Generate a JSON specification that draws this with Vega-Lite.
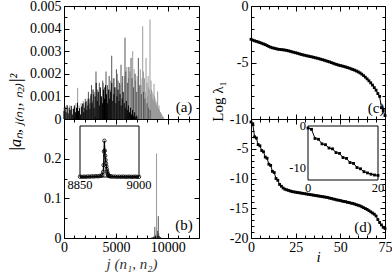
{
"$schema":"https://vega.github.io/schema/vega-lite/v6.json",
"background":"#ffffff",
"padding":{"left":6,"top":-2,"right":0,"bottom":0},
"bounds":"flush",
"columns":2,
"spacing":{"row":0,"column":52},
"config":{
 "view":{"stroke":"#000000","strokeWidth":1},
 "axis":{"grid":false,"domain":false,"tickColor":"#000000","tickWidth":1,"labelFont":"Liberation Serif","labelFontSize":14,"labelColor":"#000000","labelFlush":false,"labelOverlap":false,"titleFont":"Liberation Serif","titleColor":"#000000","titleFontWeight":"normal","titleFontSize":15}
},
"datasets":{
 "z":[{"j":0,"v":0}],
 "lab":[{"p":"a","x":11555,"y":0.00054,"t":"(a)"},{"p":"b","x":11555,"y":0.033,"t":"(b)"},{"p":"c","x":70,"y":-9.07,"t":"(c)"},{"p":"d","x":62.7,"y":-18.15,"t":"(d)"}],
 "blab":[{"j":8850,"v":-0.047,"t":"8850"},{"j":9000,"v":-0.047,"t":"9000"}],
 "dlabx":[{"i":0,"v":-14.93,"t":"0"},{"i":20,"v":-14.93,"t":"20"}],
 "dlaby":[{"i":-0.6,"v":0,"t":"0"},{"i":-0.6,"v":-10,"t":"-10"}],
 "a":[
{"j":0,"v":0.0005,"s":"s3"},{"j":150,"v":0.0004,"s":"s3"},{"j":350,"v":0.00055,"s":"s3"},{"j":550,"v":0.0006,"s":"s3"},{"j":750,"v":0.00045,"s":"s3"},{"j":950,"v":0.0005,"s":"s3"},{"j":1150,"v":0.0007,"s":"s3"},{"j":1315,"v":0.00138,"s":"s3"},{"j":1450,"v":0.0006,"s":"s3"},{"j":1650,"v":0.0007,"s":"s3"},{"j":1850,"v":0.0008,"s":"s3"},{"j":2050,"v":0.0006,"s":"s3"},{"j":2250,"v":0.0009,"s":"s3"},{"j":2550,"v":0.001,"s":"s3"},{"j":2750,"v":0.0008,"s":"s3"},{"j":2950,"v":0.0012,"s":"s3"},{"j":3200,"v":0.0011,"s":"s3"},{"j":3500,"v":0.0013,"s":"s3"},{"j":3800,"v":0.0016,"s":"s3"},{"j":4150,"v":0.0014,"s":"s3"},{"j":4500,"v":0.0017,"s":"s3"},{"j":4850,"v":0.0018,"s":"s3"},{"j":5150,"v":0.002,"s":"s3"},{"j":5400,"v":0.0015,"s":"s3"},{"j":5600,"v":0.0016,"s":"s3"},{"j":5850,"v":0.0019,"s":"s3"},{"j":6050,"v":0.0023,"s":"s3"},{"j":6200,"v":0.0018,"s":"s3"},{"j":6350,"v":0.0021,"s":"s3"},{"j":6615,"v":0.003,"s":"s3"},{"j":6750,"v":0.0022,"s":"s3"},{"j":6900,"v":0.0017,"s":"s3"},{"j":7050,"v":0.0019,"s":"s3"},{"j":7200,"v":0.0014,"s":"s3"},{"j":7350,"v":0.0022,"s":"s3"},{"j":7420,"v":0.0015,"s":"s3"},{"j":7520,"v":0.0018,"s":"s3"},{"j":7578,"v":0.0041,"s":"s3"},{"j":7650,"v":0.0021,"s":"s3"},{"j":7750,"v":0.0018,"s":"s3"},{"j":7820,"v":0.0012,"s":"s3"},{"j":7900,"v":0.0027,"s":"s3"},{"j":8000,"v":0.0016,"s":"s3"},{"j":8050,"v":0.001,"s":"s3"},{"j":8100,"v":0.0019,"s":"s3"},{"j":8150,"v":0.0014,"s":"s3"},{"j":8200,"v":0.0013,"s":"s3"},{"j":8281,"v":0.0044,"s":"s3"},{"j":8330,"v":0.0011,"s":"s3"},{"j":8380,"v":0.0017,"s":"s3"},{"j":8430,"v":0.0013,"s":"s3"},{"j":8480,"v":0.0012,"s":"s3"},{"j":8530,"v":0.0009,"s":"s3"},{"j":8580,"v":0.0011,"s":"s3"},{"j":8630,"v":0.0008,"s":"s3"},{"j":8670,"v":0.00156,"s":"s3"},{"j":8720,"v":0.001,"s":"s3"},{"j":8760,"v":0.0009,"s":"s3"},{"j":8800,"v":0.0007,"s":"s3"},{"j":8850,"v":0.0008,"s":"s3"},{"j":8900,"v":0.0006,"s":"s3"},{"j":8940,"v":0.0007,"s":"s3"},{"j":8980,"v":0.0005,"s":"s3"},{"j":9020,"v":0.00122,"s":"s3"},{"j":9060,"v":0.0004,"s":"s3"},{"j":9100,"v":0.0005,"s":"s3"},{"j":9150,"v":0.0006,"s":"s3"},{"j":9200,"v":0.0004,"s":"s3"},{"j":9250,"v":0.0003,"s":"s3"},{"j":9300,"v":0.0003,"s":"s3"},{"j":9350,"v":0.00025,"s":"s3"},{"j":9400,"v":0.0002,"s":"s3"},{"j":9450,"v":0.00015,"s":"s3"},{"j":9500,"v":0.0001,"s":"s3"},{"j":9550,"v":0.0001,"s":"s3"},{"j":9600,"v":0.00005,"s":"s3"},
{"j":1900,"v":0.0007,"s":"s2"},{"j":2050,"v":0.0009,"s":"s2"},{"j":2200,"v":0.0008,"s":"s2"},{"j":2350,"v":0.0012,"s":"s2"},{"j":2500,"v":0.0007,"s":"s2"},{"j":2650,"v":0.0015,"s":"s2"},{"j":2850,"v":0.0011,"s":"s2"},{"j":3080,"v":0.0021,"s":"s2"},{"j":3250,"v":0.0013,"s":"s2"},{"j":3400,"v":0.0016,"s":"s2"},{"j":3550,"v":0.001,"s":"s2"},{"j":3725,"v":0.0017,"s":"s2"},{"j":3900,"v":0.0014,"s":"s2"},{"j":4045,"v":0.0021,"s":"s2"},{"j":4200,"v":0.0015,"s":"s2"},{"j":4350,"v":0.0019,"s":"s2"},{"j":4450,"v":0.0013,"s":"s2"},{"j":4595,"v":0.0028,"s":"s2"},{"j":4750,"v":0.0018,"s":"s2"},{"j":4900,"v":0.0014,"s":"s2"},{"j":5050,"v":0.0022,"s":"s2"},{"j":5200,"v":0.0017,"s":"s2"},{"j":5350,"v":0.0016,"s":"s2"},{"j":5490,"v":0.0024,"s":"s2"},{"j":5650,"v":0.0019,"s":"s2"},{"j":5874,"v":0.0036,"s":"s2"},{"j":5950,"v":0.0021,"s":"s2"},{"j":6100,"v":0.0016,"s":"s2"},{"j":6250,"v":0.0023,"s":"s2"},{"j":6455,"v":0.0027,"s":"s2"},{"j":6550,"v":0.0018,"s":"s2"},{"j":6700,"v":0.0014,"s":"s2"},{"j":6850,"v":0.002,"s":"s2"},{"j":7000,"v":0.0012,"s":"s2"},{"j":7160,"v":0.0027,"s":"s2"},{"j":7300,"v":0.0015,"s":"s2"},{"j":7450,"v":0.0011,"s":"s2"},{"j":7650,"v":0.0012,"s":"s2"},{"j":7800,"v":0.0009,"s":"s2"},{"j":8000,"v":0.0007,"s":"s2"},{"j":8150,"v":0.0005,"s":"s2"},{"j":8300,"v":0.0004,"s":"s2"},
{"j":0,"v":0.00035,"s":"s1"},{"j":100,"v":0.00055,"s":"s1"},{"j":200,"v":0.0003,"s":"s1"},{"j":300,"v":0.00062,"s":"s1"},{"j":400,"v":0.00025,"s":"s1"},{"j":500,"v":0.0005,"s":"s1"},{"j":600,"v":0.0004,"s":"s1"},{"j":700,"v":0.00058,"s":"s1"},{"j":800,"v":0.0002,"s":"s1"},{"j":900,"v":0.00045,"s":"s1"},{"j":1000,"v":0.0006,"s":"s1"},{"j":1100,"v":0.0003,"s":"s1"},{"j":1200,"v":0.0005,"s":"s1"},{"j":1300,"v":0.00072,"s":"s1"},{"j":1400,"v":0.00035,"s":"s1"},{"j":1500,"v":0.00048,"s":"s1"},{"j":1600,"v":0.0002,"s":"s1"},{"j":1700,"v":0.00055,"s":"s1"},{"j":1800,"v":0.00068,"s":"s1"},{"j":1900,"v":0.0003,"s":"s1"},{"j":2000,"v":0.0005,"s":"s1"},{"j":2100,"v":0.00075,"s":"s1"},{"j":2200,"v":0.0004,"s":"s1"},{"j":2300,"v":0.0006,"s":"s1"},{"j":2400,"v":0.0009,"s":"s1"},{"j":2500,"v":0.00045,"s":"s1"},{"j":2600,"v":0.0011,"s":"s1"},{"j":2700,"v":0.0007,"s":"s1"},{"j":2800,"v":0.0013,"s":"s1"},{"j":2900,"v":0.0005,"s":"s1"},{"j":3000,"v":0.001,"s":"s1"},{"j":3100,"v":0.0016,"s":"s1"},{"j":3200,"v":0.0008,"s":"s1"},{"j":3300,"v":0.0012,"s":"s1"},{"j":3400,"v":0.0006,"s":"s1"},{"j":3500,"v":0.0014,"s":"s1"},{"j":3600,"v":0.001,"s":"s1"},{"j":3700,"v":0.0007,"s":"s1"},{"j":3800,"v":0.0013,"s":"s1"},{"j":3900,"v":0.0009,"s":"s1"},{"j":4000,"v":0.0015,"s":"s1"},{"j":4100,"v":0.0011,"s":"s1"},{"j":4200,"v":0.0007,"s":"s1"},{"j":4300,"v":0.0013,"s":"s1"},{"j":4400,"v":0.0009,"s":"s1"},{"j":4500,"v":0.0012,"s":"s1"},{"j":4600,"v":0.0016,"s":"s1"},{"j":4700,"v":0.0008,"s":"s1"},{"j":4800,"v":0.0011,"s":"s1"},{"j":4900,"v":0.0014,"s":"s1"},{"j":5000,"v":0.0007,"s":"s1"},{"j":5100,"v":0.001,"s":"s1"},{"j":5200,"v":0.0013,"s":"s1"},{"j":5300,"v":0.0008,"s":"s1"},{"j":5400,"v":0.0011,"s":"s1"},{"j":5500,"v":0.0006,"s":"s1"},{"j":5600,"v":0.0009,"s":"s1"},{"j":5700,"v":0.0012,"s":"s1"},{"j":5800,"v":0.0007,"s":"s1"},{"j":5900,"v":0.0005,"s":"s1"},{"j":6000,"v":0.0008,"s":"s1"},{"j":6100,"v":0.0004,"s":"s1"},{"j":6200,"v":0.0006,"s":"s1"},{"j":6300,"v":0.0003,"s":"s1"},{"j":6400,"v":0.0005,"s":"s1"},{"j":6500,"v":0.0002,"s":"s1"},{"j":6600,"v":0.0004,"s":"s1"},{"j":6700,"v":0.00015,"s":"s1"},{"j":6800,"v":0.0003,"s":"s1"},{"j":6900,"v":0.0001,"s":"s1"},{"j":7000,"v":0.00015,"s":"s1"}
 ],
 "b":[
{"j":8912,"v":0.213,"s":"s3"},{"j":8400,"v":0.002,"s":"s3"},{"j":8700,"v":0.003,"s":"s3"},{"j":8950,"v":0.006,"s":"s3"},{"j":9150,"v":0.003,"s":"s3"},
{"j":8500,"v":0.002,"s":"s2"},{"j":8600,"v":0.003,"s":"s2"},{"j":8750,"v":0.028,"s":"s2"},{"j":8800,"v":0.008,"s":"s2"},{"j":8850,"v":0.005,"s":"s2"},{"j":9000,"v":0.018,"s":"s2"},{"j":9080,"v":0.055,"s":"s2"},{"j":9120,"v":0.012,"s":"s2"},{"j":9200,"v":0.005,"s":"s2"},{"j":9300,"v":0.002,"s":"s2"},
{"j":2000,"v":0.001,"s":"s1"},{"j":5000,"v":0.001,"s":"s1"},{"j":8650,"v":0.003,"s":"s1"},{"j":8820,"v":0.004,"s":"s1"},{"j":9050,"v":0.006,"s":"s1"},{"j":9250,"v":0.002,"s":"s1"}
 ],
 "bi":[
{"j":8850,"v":0.002},{"j":8855,"v":0.001},{"j":8860,"v":0.002},{"j":8865,"v":0.001},{"j":8870,"v":0.003},{"j":8875,"v":0.002},{"j":8880,"v":0.004},{"j":8885,"v":0.003},{"j":8890,"v":0.005},{"j":8895,"v":0.004},{"j":8900,"v":0.006},{"j":8904,"v":0.008},{"j":8907,"v":0.012},{"j":8909,"v":0.03},{"j":8910,"v":0.07},{"j":8911,"v":0.15},{"j":8912,"v":0.213},{"j":8913,"v":0.155},{"j":8914,"v":0.125},{"j":8915,"v":0.1},{"j":8916,"v":0.08},{"j":8917,"v":0.063},{"j":8918,"v":0.047},{"j":8919,"v":0.033},{"j":8920,"v":0.022},{"j":8921,"v":0.014},{"j":8922,"v":0.009},{"j":8924,"v":0.006},{"j":8927,"v":0.004},{"j":8930,"v":0.003},{"j":8935,"v":0.002},{"j":8940,"v":0.002},{"j":8945,"v":0.001},{"j":8950,"v":0.002},{"j":8955,"v":0.001},{"j":8960,"v":0.002},{"j":8965,"v":0.001},{"j":8970,"v":0.001},{"j":8975,"v":0.002},{"j":8980,"v":0.001},{"j":8985,"v":0.001},{"j":8990,"v":0.002},{"j":8995,"v":0.001},{"j":9000,"v":0.001}
 ],
 "bframe":[{"j":8850,"j2":9000,"v":0,"v2":0.3}],
 "dframe":[{"i":0,"i2":20,"v":-13,"v2":0}],
 "c":[
{"i":0,"v":-2.95},{"i":1,"v":-3.02},{"i":2,"v":-3.08},{"i":3,"v":-3.13},{"i":4,"v":-3.18},{"i":5,"v":-3.24},{"i":6,"v":-3.3},{"i":7,"v":-3.36},{"i":8,"v":-3.42},{"i":9,"v":-3.5},{"i":10,"v":-3.58},{"i":11,"v":-3.65},{"i":12,"v":-3.7},{"i":13,"v":-3.74},{"i":14,"v":-3.78},{"i":15,"v":-3.82},{"i":16,"v":-3.84},{"i":17,"v":-3.86},{"i":18,"v":-3.88},{"i":19,"v":-3.9},{"i":20,"v":-3.93},{"i":21,"v":-3.97},{"i":22,"v":-4.01},{"i":23,"v":-4.06},{"i":24,"v":-4.1},{"i":25,"v":-4.14},{"i":26,"v":-4.18},{"i":27,"v":-4.23},{"i":28,"v":-4.28},{"i":29,"v":-4.32},{"i":30,"v":-4.36},{"i":31,"v":-4.4},{"i":32,"v":-4.43},{"i":33,"v":-4.47},{"i":34,"v":-4.5},{"i":35,"v":-4.54},{"i":36,"v":-4.58},{"i":37,"v":-4.62},{"i":38,"v":-4.66},{"i":39,"v":-4.71},{"i":40,"v":-4.75},{"i":41,"v":-4.8},{"i":42,"v":-4.85},{"i":43,"v":-4.9},{"i":44,"v":-4.95},{"i":45,"v":-5.01},{"i":46,"v":-5.07},{"i":47,"v":-5.13},{"i":48,"v":-5.18},{"i":49,"v":-5.23},{"i":50,"v":-5.27},{"i":51,"v":-5.31},{"i":52,"v":-5.35},{"i":53,"v":-5.4},{"i":54,"v":-5.45},{"i":55,"v":-5.5},{"i":56,"v":-5.56},{"i":57,"v":-5.62},{"i":58,"v":-5.68},{"i":59,"v":-5.75},{"i":60,"v":-5.83},{"i":61,"v":-5.92},{"i":62,"v":-6.03},{"i":63,"v":-6.16},{"i":64,"v":-6.3},{"i":65,"v":-6.45},{"i":66,"v":-6.62},{"i":67,"v":-6.8},{"i":68,"v":-7.0},{"i":69,"v":-7.22},{"i":70,"v":-7.45},{"i":71,"v":-7.75},{"i":72,"v":-8.0},{"i":73,"v":-9.0},{"i":74,"v":-9.25},{"i":75,"v":-9.7}
 ],
 "d":[
{"i":0,"v":-0.5},{"i":1,"v":-0.8},{"i":2,"v":-3.0},{"i":3,"v":-3.2},{"i":4,"v":-4.3},{"i":5,"v":-4.5},{"i":6,"v":-5.3},{"i":7,"v":-5.5},{"i":8,"v":-6.4},{"i":9,"v":-6.6},{"i":10,"v":-7.6},{"i":11,"v":-7.8},{"i":12,"v":-8.8},{"i":13,"v":-9.0},{"i":14,"v":-10.0},{"i":15,"v":-10.3},{"i":16,"v":-11.0},{"i":17,"v":-11.3},{"i":18,"v":-11.6},{"i":19,"v":-11.8},{"i":20,"v":-11.9},{"i":21,"v":-12.0},{"i":22,"v":-12.1},{"i":23,"v":-12.2},{"i":24,"v":-12.25},{"i":25,"v":-12.3},{"i":26,"v":-12.35},{"i":27,"v":-12.4},{"i":28,"v":-12.45},{"i":29,"v":-12.5},{"i":30,"v":-12.55},{"i":31,"v":-12.6},{"i":32,"v":-12.65},{"i":33,"v":-12.7},{"i":34,"v":-12.75},{"i":35,"v":-12.8},{"i":36,"v":-12.85},{"i":37,"v":-12.9},{"i":38,"v":-12.95},{"i":39,"v":-13.0},{"i":40,"v":-13.05},{"i":41,"v":-13.1},{"i":42,"v":-13.15},{"i":43,"v":-13.2},{"i":44,"v":-13.3},{"i":45,"v":-13.35},{"i":46,"v":-13.45},{"i":47,"v":-13.5},{"i":48,"v":-13.6},{"i":49,"v":-13.65},{"i":50,"v":-13.7},{"i":51,"v":-13.8},{"i":52,"v":-13.85},{"i":53,"v":-13.9},{"i":54,"v":-14.0},{"i":55,"v":-14.05},{"i":56,"v":-14.15},{"i":57,"v":-14.2},{"i":58,"v":-14.3},{"i":59,"v":-14.4},{"i":60,"v":-14.5},{"i":61,"v":-14.6},{"i":62,"v":-14.75},{"i":63,"v":-14.9},{"i":64,"v":-15.05},{"i":65,"v":-15.2},{"i":66,"v":-15.4},{"i":67,"v":-15.6},{"i":68,"v":-15.8},{"i":69,"v":-16.0},{"i":70,"v":-16.3},{"i":71,"v":-16.9},{"i":72,"v":-17.4},{"i":73,"v":-17.8},{"i":74,"v":-18.2},{"i":75,"v":-18.4}
 ]
},
"concat":[
  {"width":135,"height":113,
   "resolve":{"axis":{"x":"independent","y":"independent"}},
   "layer":[
    {"data":{"name":"a"},"mark":{"type":"rule","strokeWidth":1},
     "encoding":{
      "x":{"field":"j","type":"quantitative","scale":{"domain":[0,13000],"nice":false,"zero":false},"axis":{"orient":"bottom","values":[0,5000,10000],"labels":false,"tickSize":-5,"title":null}},
      "y":{"field":"v","type":"quantitative","scale":{"domain":[0,0.005],"nice":false,"zero":false},"axis":{"orient":"left","values":[0,0.001,0.002,0.003,0.004,0.005],"tickSize":-5,"labelPadding":8,"labelExpr":"''+datum.value","title":"|aₙ, ⱼ₍ₙ₁, ₙ₂₎|²","titleX":-49,"titleY":106,"titleBaseline":"middle","titleFontSize":16,"titleFontStyle":"italic"}},
      "y2":{"datum":0},
      "color":{"field":"s","type":"nominal","scale":{"domain":["s3","s2","s1"],"range":["#9a9a9a","#555555","#000000"]},"legend":null}}},
    {"data":{"name":"z"},"mark":{"type":"point","opacity":0},
     "encoding":{
      "x":{"field":"j","type":"quantitative","scale":{"domain":[0,13000],"nice":false,"zero":false},"axis":{"orient":"bottom","values":[1000,2000,3000,4000,6000,7000,8000,9000,11000,12000],"labels":false,"tickSize":-3,"title":null}},
      "y":{"field":"v","type":"quantitative","scale":{"domain":[0,0.005],"nice":false,"zero":false},"axis":{"orient":"left","values":[0.0005,0.0015,0.0025,0.0035,0.0045],"labels":false,"tickSize":-3,"title":null}}}},
    {"data":{"name":"z"},"mark":{"type":"point","opacity":0},
     "encoding":{
      "x":{"field":"j","type":"quantitative","scale":{"domain":[0,13000],"nice":false,"zero":false},"axis":{"orient":"top","values":[0,5000,10000],"labels":false,"tickSize":-5,"title":null}},
      "y":{"field":"v","type":"quantitative","scale":{"domain":[0,0.005],"nice":false,"zero":false},"axis":{"orient":"right","values":[0,0.001,0.002,0.003,0.004,0.005],"labels":false,"tickSize":-5,"title":null}}}},
    {"data":{"name":"z"},"mark":{"type":"point","opacity":0},
     "encoding":{
      "x":{"field":"j","type":"quantitative","scale":{"domain":[0,13000],"nice":false,"zero":false},"axis":{"orient":"top","values":[1000,2000,3000,4000,6000,7000,8000,9000,11000,12000],"labels":false,"tickSize":-3,"title":null}},
      "y":{"field":"v","type":"quantitative","scale":{"domain":[0,0.005],"nice":false,"zero":false},"axis":{"orient":"right","values":[0.0005,0.0015,0.0025,0.0035,0.0045],"labels":false,"tickSize":-3,"title":null}}}},
    {"data":{"name":"lab"},"transform":[{"filter":"datum.p=='a'"}],"mark":{"type":"text","font":"Liberation Serif","fontSize":15,"align":"center","baseline":"middle","color":"#000000"},
     "encoding":{
      "x":{"field":"x","type":"quantitative","scale":{"domain":[0,13000],"nice":false,"zero":false},"axis":null},
      "y":{"field":"y","type":"quantitative","scale":{"domain":[0,0.005],"nice":false,"zero":false},"axis":null},
      "text":{"field":"t"}}}
   ]},
  {"width":134,"height":113,
   "resolve":{"axis":{"x":"independent","y":"independent"}},
   "layer":[
    {"data":{"name":"c"},"mark":{"type":"line","color":"#000000","strokeWidth":1},
     "encoding":{
      "x":{"field":"i","type":"quantitative","scale":{"domain":[0,75],"nice":false,"zero":false},"axis":{"orient":"bottom","values":[0,25,50,75],"labels":false,"tickSize":-5,"title":null}},
      "y":{"field":"v","type":"quantitative","scale":{"domain":[-10,0],"nice":false,"zero":false},"axis":{"orient":"left","values":[0,-5,-10],"tickSize":-5,"labelPadding":8,"labelExpr":"''+datum.value","title":"Log λ₁","titleX":-34,"titleY":95,"titleBaseline":"middle","titleFontSize":15}}}},
    {"data":{"name":"c"},"mark":{"type":"point","shape":"square","filled":true,"size":8,"color":"#000000","opacity":1},
     "encoding":{
      "x":{"field":"i","type":"quantitative","scale":{"domain":[0,75],"nice":false,"zero":false},"axis":null},
      "y":{"field":"v","type":"quantitative","scale":{"domain":[-10,0],"nice":false,"zero":false},"axis":null}}},
    {"data":{"name":"z"},"mark":{"type":"point","opacity":0},
     "encoding":{
      "x":{"field":"j","type":"quantitative","scale":{"domain":[0,75],"nice":false,"zero":false},"axis":{"orient":"bottom","values":[5,10,15,20,30,35,40,45,55,60,65,70],"labels":false,"tickSize":-3,"title":null}},
      "y":{"field":"v","type":"quantitative","scale":{"domain":[-10,0],"nice":false,"zero":false},"axis":{"orient":"left","values":[-1,-2,-3,-4,-6,-7,-8,-9],"labels":false,"tickSize":-3,"title":null}}}},
    {"data":{"name":"z"},"mark":{"type":"point","opacity":0},
     "encoding":{
      "x":{"field":"j","type":"quantitative","scale":{"domain":[0,75],"nice":false,"zero":false},"axis":{"orient":"top","values":[0,25,50,75],"labels":false,"tickSize":-5,"title":null}},
      "y":{"field":"v","type":"quantitative","scale":{"domain":[-10,0],"nice":false,"zero":false},"axis":{"orient":"right","values":[0,-5,-10],"labels":false,"tickSize":-5,"title":null}}}},
    {"data":{"name":"z"},"mark":{"type":"point","opacity":0},
     "encoding":{
      "x":{"field":"j","type":"quantitative","scale":{"domain":[0,75],"nice":false,"zero":false},"axis":{"orient":"top","values":[5,10,15,20,30,35,40,45,55,60,65,70],"labels":false,"tickSize":-3,"title":null}},
      "y":{"field":"v","type":"quantitative","scale":{"domain":[-10,0],"nice":false,"zero":false},"axis":{"orient":"right","values":[-1,-2,-3,-4,-6,-7,-8,-9],"labels":false,"tickSize":-3,"title":null}}}},
    {"data":{"name":"lab"},"transform":[{"filter":"datum.p=='c'"}],"mark":{"type":"text","font":"Liberation Serif","fontSize":15,"align":"center","baseline":"middle","color":"#000000"},
     "encoding":{
      "x":{"field":"x","type":"quantitative","scale":{"domain":[0,75],"nice":false,"zero":false},"axis":null},
      "y":{"field":"y","type":"quantitative","scale":{"domain":[-10,0],"nice":false,"zero":false},"axis":null},
      "text":{"field":"t"}}}
   ]},
  {"width":135,"height":119,
   "resolve":{"scale":{"x":"independent","y":"independent"}},
   "layer":[
    {"resolve":{"axis":{"x":"independent","y":"independent"}},
     "layer":[
      {"data":{"name":"b"},"mark":{"type":"rule","strokeWidth":1},
       "encoding":{
        "x":{"field":"j","type":"quantitative","scale":{"domain":[0,13000],"nice":false,"zero":false},"axis":{"orient":"bottom","values":[0,5000,10000],"tickSize":-5,"labelPadding":7,"labelExpr":"''+datum.value","title":"j (n₁, n₂)","titleY":25,"titleBaseline":"middle","titleFontStyle":"italic","titleColor":"#333333"}},
        "y":{"field":"v","type":"quantitative","scale":{"domain":[0,0.3],"nice":false,"zero":false},"axis":{"orient":"left","values":[0,0.1,0.2,0.3],"tickSize":-5,"labelPadding":8,"labelExpr":"datum.value>0.25?'':''+datum.value","title":null}},
        "y2":{"datum":0},
        "color":{"field":"s","type":"nominal","scale":{"domain":["s3","s2","s1"],"range":["#9a9a9a","#555555","#000000"]},"legend":null}}},
      {"data":{"name":"z"},"mark":{"type":"point","opacity":0},
       "encoding":{
        "x":{"field":"j","type":"quantitative","scale":{"domain":[0,13000],"nice":false,"zero":false},"axis":{"orient":"bottom","values":[1000,2000,3000,4000,6000,7000,8000,9000,11000,12000],"labels":false,"tickSize":-3,"title":null}},
        "y":{"field":"v","type":"quantitative","scale":{"domain":[0,0.3],"nice":false,"zero":false},"axis":{"orient":"left","values":[0.05,0.15,0.25],"labels":false,"tickSize":-3,"title":null}}}},
      {"data":{"name":"z"},"mark":{"type":"point","opacity":0},
       "encoding":{
        "x":{"field":"j","type":"quantitative","scale":{"domain":[0,13000],"nice":false,"zero":false},"axis":{"orient":"top","values":[0,5000,10000],"labels":false,"tickSize":-5,"title":null}},
        "y":{"field":"v","type":"quantitative","scale":{"domain":[0,0.3],"nice":false,"zero":false},"axis":{"orient":"right","values":[0,0.1,0.2,0.3],"labels":false,"tickSize":-5,"title":null}}}},
      {"data":{"name":"z"},"mark":{"type":"point","opacity":0},
       "encoding":{
        "x":{"field":"j","type":"quantitative","scale":{"domain":[0,13000],"nice":false,"zero":false},"axis":{"orient":"top","values":[1000,2000,3000,4000,6000,7000,8000,9000,11000,12000],"labels":false,"tickSize":-3,"title":null}},
        "y":{"field":"v","type":"quantitative","scale":{"domain":[0,0.3],"nice":false,"zero":false},"axis":{"orient":"right","values":[0.05,0.15,0.25],"labels":false,"tickSize":-3,"title":null}}}},
      {"data":{"name":"lab"},"transform":[{"filter":"datum.p=='b'"}],"mark":{"type":"text","font":"Liberation Serif","fontSize":15,"align":"center","baseline":"middle","color":"#000000"},
       "encoding":{
        "x":{"field":"x","type":"quantitative","scale":{"domain":[0,13000],"nice":false,"zero":false},"axis":null},
        "y":{"field":"y","type":"quantitative","scale":{"domain":[0,0.3],"nice":false,"zero":false},"axis":null},
        "text":{"field":"t"}}}
     ]},
    {"layer":[
      {"data":{"name":"bframe"},"mark":{"type":"rect","fill":"transparent","stroke":"#000000","strokeWidth":1},
       "encoding":{
        "x":{"field":"j","type":"quantitative","scale":{"domain":[8850,9000],"range":[16,75],"nice":false,"zero":false},"axis":{"orient":"bottom","offset":-61,"values":[8850,8900,8950,9000],"labels":false,"tickSize":-3,"title":null}},
        "x2":{"field":"j2"},
        "y":{"field":"v","type":"quantitative","scale":{"domain":[0,0.3],"range":[58,7],"nice":false,"zero":false},"axis":{"orient":"left","offset":-16,"values":[0.05,0.1,0.15,0.2,0.25],"labels":false,"tickSize":-3,"title":null}},
        "y2":{"field":"v2"}}},
      {"data":{"name":"bi"},"mark":{"type":"line","color":"#000000","strokeWidth":1.2},
       "encoding":{
        "x":{"field":"j","type":"quantitative","scale":{"domain":[8850,9000],"range":[16,75],"nice":false,"zero":false},"axis":null},
        "y":{"field":"v","type":"quantitative","scale":{"domain":[0,0.3],"range":[58,7],"nice":false,"zero":false},"axis":null}}},
      {"data":{"name":"bi"},"mark":{"type":"point","shape":"circle","filled":false,"size":12,"strokeWidth":0.8,"color":"#000000","opacity":1},
       "encoding":{
        "x":{"field":"j","type":"quantitative","scale":{"domain":[8850,9000],"range":[16,75],"nice":false,"zero":false},"axis":null},
        "y":{"field":"v","type":"quantitative","scale":{"domain":[0,0.3],"range":[58,7],"nice":false,"zero":false},"axis":null}}},
      {"data":{"name":"blab"},"mark":{"type":"text","font":"Liberation Serif","fontSize":12.5,"align":"center","baseline":"middle","color":"#000000"},
       "encoding":{
        "x":{"field":"j","type":"quantitative","scale":{"domain":[8850,9000],"range":[16,75],"nice":false,"zero":false},"axis":null},
        "y":{"field":"v","type":"quantitative","scale":{"domain":[0,0.3],"range":[58,7],"nice":false,"zero":false},"axis":null},
        "text":{"field":"t"}}}
    ]}
   ]},
  {"width":134,"height":119,
   "resolve":{"scale":{"x":"independent","y":"independent"}},
   "layer":[
    {"resolve":{"axis":{"x":"independent","y":"independent"}},
     "layer":[
      {"data":{"name":"d"},"mark":{"type":"line","color":"#000000","strokeWidth":1},
       "encoding":{
        "x":{"field":"i","type":"quantitative","scale":{"domain":[0,75],"nice":false,"zero":false},"axis":{"orient":"bottom","values":[0,25,50,75],"tickSize":-5,"labelPadding":7,"labelExpr":"''+datum.value","title":"i","titleY":18,"titleBaseline":"middle","titleFontStyle":"italic"}},
        "y":{"field":"v","type":"quantitative","scale":{"domain":[-20,0],"nice":false,"zero":false},"axis":{"orient":"left","values":[0,-5,-10,-15,-20],"tickSize":-5,"labelPadding":8,"labelExpr":"datum.value==0?'':''+datum.value","title":null}}}},
      {"data":{"name":"d"},"mark":{"type":"point","shape":"square","filled":true,"size":8,"color":"#000000","opacity":1},
       "encoding":{
        "x":{"field":"i","type":"quantitative","scale":{"domain":[0,75],"nice":false,"zero":false},"axis":null},
        "y":{"field":"v","type":"quantitative","scale":{"domain":[-20,0],"nice":false,"zero":false},"axis":null}}},
      {"data":{"name":"z"},"mark":{"type":"point","opacity":0},
       "encoding":{
        "x":{"field":"j","type":"quantitative","scale":{"domain":[0,75],"nice":false,"zero":false},"axis":{"orient":"bottom","values":[5,10,15,20,30,35,40,45,55,60,65,70],"labels":false,"tickSize":-3,"title":null}},
        "y":{"field":"v","type":"quantitative","scale":{"domain":[-20,0],"nice":false,"zero":false},"axis":{"orient":"left","values":[-1,-2,-3,-4,-6,-7,-8,-9,-11,-12,-13,-14,-16,-17,-18,-19],"labels":false,"tickSize":-3,"title":null}}}},
      {"data":{"name":"z"},"mark":{"type":"point","opacity":0},
       "encoding":{
        "x":{"field":"j","type":"quantitative","scale":{"domain":[0,75],"nice":false,"zero":false},"axis":{"orient":"top","values":[0,25,50,75],"labels":false,"tickSize":-5,"title":null}},
        "y":{"field":"v","type":"quantitative","scale":{"domain":[-20,0],"nice":false,"zero":false},"axis":{"orient":"right","values":[0,-5,-10,-15,-20],"labels":false,"tickSize":-5,"title":null}}}},
      {"data":{"name":"z"},"mark":{"type":"point","opacity":0},
       "encoding":{
        "x":{"field":"j","type":"quantitative","scale":{"domain":[0,75],"nice":false,"zero":false},"axis":{"orient":"top","values":[5,10,15,20,30,35,40,45,55,60,65,70],"labels":false,"tickSize":-3,"title":null}},
        "y":{"field":"v","type":"quantitative","scale":{"domain":[-20,0],"nice":false,"zero":false},"axis":{"orient":"right","values":[-1,-2,-3,-4,-6,-7,-8,-9,-11,-12,-13,-14,-16,-17,-18,-19],"labels":false,"tickSize":-3,"title":null}}}},
      {"data":{"name":"lab"},"transform":[{"filter":"datum.p=='d'"}],"mark":{"type":"text","font":"Liberation Serif","fontSize":15,"align":"center","baseline":"middle","color":"#000000"},
       "encoding":{
        "x":{"field":"x","type":"quantitative","scale":{"domain":[0,75],"nice":false,"zero":false},"axis":null},
        "y":{"field":"y","type":"quantitative","scale":{"domain":[-20,0],"nice":false,"zero":false},"axis":null},
        "text":{"field":"t"}}}
     ]},
    {"layer":[
      {"data":{"name":"dframe"},"mark":{"type":"rect","fill":"transparent","stroke":"#000000","strokeWidth":1},
       "encoding":{
        "x":{"field":"i","type":"quantitative","scale":{"domain":[0,20],"range":[57,127],"nice":false,"zero":false},"axis":{"orient":"bottom","offset":-58,"values":[0,5,10,15,20],"labels":false,"tickSize":-3,"title":null}},
        "x2":{"field":"i2"},
        "y":{"field":"v","type":"quantitative","scale":{"domain":[-13,0],"range":[61,7],"nice":false,"zero":false},"axis":{"orient":"left","offset":-57,"values":[0,-2,-4,-6,-8,-10,-12],"labels":false,"tickSize":-3,"title":null}},
        "y2":{"field":"v2"}}},
      {"data":{"name":"d"},"transform":[{"filter":"datum.i<=20"}],"mark":{"type":"line","color":"#000000","strokeWidth":1},
       "encoding":{
        "x":{"field":"i","type":"quantitative","scale":{"domain":[0,20],"range":[57,127],"nice":false,"zero":false},"axis":null},
        "y":{"field":"v","type":"quantitative","scale":{"domain":[-13,0],"range":[61,7],"nice":false,"zero":false},"axis":null}}},
      {"data":{"name":"d"},"transform":[{"filter":"datum.i<=20"}],"mark":{"type":"point","shape":"square","filled":true,"size":8,"color":"#000000","opacity":1},
       "encoding":{
        "x":{"field":"i","type":"quantitative","scale":{"domain":[0,20],"range":[57,127],"nice":false,"zero":false},"axis":null},
        "y":{"field":"v","type":"quantitative","scale":{"domain":[-13,0],"range":[61,7],"nice":false,"zero":false},"axis":null}}},
      {"data":{"name":"dlabx"},"mark":{"type":"text","font":"Liberation Serif","fontSize":12.5,"align":"center","baseline":"middle","color":"#000000"},
       "encoding":{
        "x":{"field":"i","type":"quantitative","scale":{"domain":[0,20],"range":[57,127],"nice":false,"zero":false},"axis":null},
        "y":{"field":"v","type":"quantitative","scale":{"domain":[-13,0],"range":[61,7],"nice":false,"zero":false},"axis":null},
        "text":{"field":"t"}}},
      {"data":{"name":"dlaby"},"mark":{"type":"text","font":"Liberation Serif","fontSize":12.5,"align":"right","baseline":"middle","color":"#000000"},
       "encoding":{
        "x":{"field":"i","type":"quantitative","scale":{"domain":[0,20],"range":[57,127],"nice":false,"zero":false},"axis":null},
        "y":{"field":"v","type":"quantitative","scale":{"domain":[-13,0],"range":[61,7],"nice":false,"zero":false},"axis":null},
        "text":{"field":"t"}}}
    ]}
   ]}
]
}
